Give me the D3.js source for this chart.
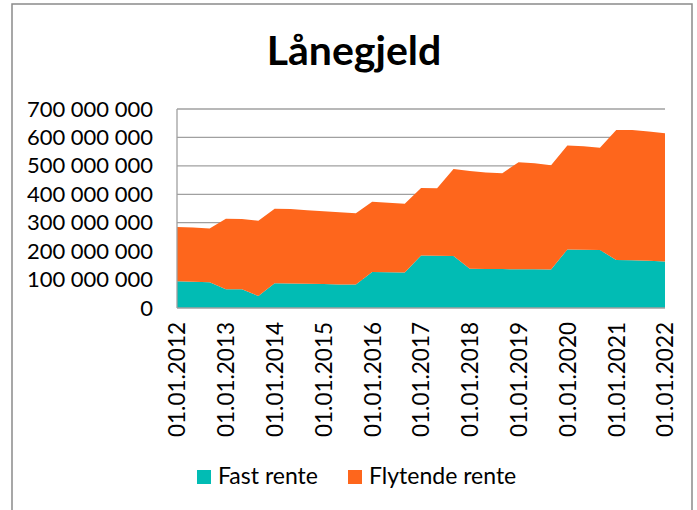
<!DOCTYPE html>
<html>
<head>
<meta charset="utf-8">
<script src="https://cdn.jsdelivr.net/npm/d3@7"></script>
<style>
  body { margin: 0; background: #fff; }
  text { font-family: Lato, "Open Sans", sans-serif; fill: #000; }
</style>
</head>
<body>
<script>
// set dimensions
var width = 697;
var height = 510;

// data: every 4 months (01.01, 01.05, 01.09), values in million NOK
var dates = [
  "01.01.2012", "01.05.2012", "01.09.2012",
  "01.01.2013", "01.05.2013", "01.09.2013",
  "01.01.2014", "01.05.2014", "01.09.2014",
  "01.01.2015", "01.05.2015", "01.09.2015",
  "01.01.2016", "01.05.2016", "01.09.2016",
  "01.01.2017", "01.05.2017", "01.09.2017",
  "01.01.2018", "01.05.2018", "01.09.2018",
  "01.01.2019", "01.05.2019", "01.09.2019",
  "01.01.2020", "01.05.2020", "01.09.2020",
  "01.01.2021", "01.05.2021", "01.09.2021",
  "01.01.2022"
];
var fastRente = [
  94, 92, 91,
  66, 66, 42,
  87, 86, 85,
  84, 83, 83,
  127, 126, 125,
  185, 184, 183,
  138, 137, 137,
  136, 136, 135,
  206, 205, 204,
  169, 168, 166,
  164
];
var flytendeRente = [
  191, 191, 189,
  248, 247, 265,
  262, 262, 259,
  256, 254, 250,
  247, 244, 242,
  237, 237, 306,
  344, 340, 337,
  377, 373, 367,
  366, 364, 360,
  457, 458, 455,
  451
];
var seriesNames = ["Fast rente", "Flytende rente"];
var colors = ["#01bcb4", "#fe661c"];
var yTicks = [0, 100, 200, 300, 400, 500, 600, 700];
var xTickLabels = ["01.01.2012", "01.01.2013", "01.01.2014", "01.01.2015", "01.01.2016",
  "01.01.2017", "01.01.2018", "01.01.2019", "01.01.2020", "01.01.2021", "01.01.2022"];

var parseDate = d3.timeParse("%d.%m.%Y");

var data = dates.map(function(d, i) {
  return { date: parseDate(d), fast: fastRente[i], flyt: flytendeRente[i] };
});

// create SVG
var svg = d3.select("body")
    .append("svg")
    .attr("width", width)
    .attr("height", height);

// chart border
svg.append("rect")
    .attr("x", 12)
    .attr("y", 4)
    .attr("width", 680)
    .attr("height", 530)
    .attr("fill", "none")
    .attr("stroke", "#8a8a8a")
    .attr("stroke-width", 1.5);

// title
svg.append("text")
    .attr("x", 354)
    .attr("y", 65)
    .attr("text-anchor", "middle")
    .attr("font-size", "41px")
    .attr("font-weight", "bold")
    .text("Lånegjeld");

// scales
var xScale = d3.scaleTime()
    .domain([parseDate(dates[0]), parseDate(dates[dates.length - 1])])
    .range([177, 665]);

var yScale = d3.scaleLinear()
    .domain([0, 700])
    .range([308, 109]);

// gridlines
svg.append("g")
    .selectAll("line")
    .data(yTicks.slice(1))
    .enter()
    .append("line")
    .attr("x1", 177)
    .attr("x2", 665)
    .attr("y1", d => yScale(d))
    .attr("y2", d => yScale(d))
    .attr("stroke", "#a0a0a0")
    .attr("stroke-width", 1.3);

// stack
var stack = d3.stack().keys(["fast", "flyt"]);
var layers = stack(data);

var area = d3.area()
    .x(d => xScale(d.data.date))
    .y0(d => yScale(d[0]))
    .y1(d => yScale(d[1]));

svg.selectAll("path.layer")
    .data(layers)
    .enter()
    .append("path")
    .attr("class", "layer")
    .attr("d", area)
    .attr("fill", (d, i) => colors[i]);

// axis lines
svg.append("line")
    .attr("x1", 177).attr("x2", 177)
    .attr("y1", yScale(700)).attr("y2", yScale(0))
    .attr("stroke", "#a0a0a0").attr("stroke-width", 1.3);
svg.append("line")
    .attr("x1", 177).attr("x2", 665)
    .attr("y1", yScale(0)).attr("y2", yScale(0))
    .attr("stroke", "#a0a0a0").attr("stroke-width", 1.3);

// y axis labels
var fmt = d3.formatLocale({ decimal: ",", thousands: "\u00a0", grouping: [3], currency: ["", ""] }).format(",d");
var yAxis = d3.axisLeft(yScale)
    .tickValues(yTicks)
    .tickSize(0)
    .tickPadding(24)
    .tickFormat(d => fmt(d * 1000000));

svg.append("g")
    .attr("transform", "translate(177,0)")
    .call(yAxis)
    .call(g => g.select(".domain").remove())
    .selectAll("text")
    .attr("font-family", "Lato, sans-serif")
    .attr("font-size", "22px")
    .attr("fill", "#000");

// x axis labels
var xAxis = d3.axisBottom(xScale)
    .tickValues(xTickLabels.map(parseDate))
    .tickSize(0)
    .tickFormat(d3.timeFormat("%d.%m.%Y"));

svg.append("g")
    .attr("transform", "translate(0," + yScale(0) + ")")
    .call(xAxis)
    .call(g => g.select(".domain").remove())
    .selectAll("text")
    .attr("font-family", "Lato, sans-serif")
    .attr("font-size", "22.5px")
    .attr("fill", "#000")
    .attr("text-anchor", "end")
    .attr("transform", "rotate(-90)")
    .attr("x", -14)
    .attr("y", 0)
    .attr("dy", "0.35em");

// legend
var legendX = [197, 348];
var legend = svg.selectAll("g.legend")
    .data(seriesNames)
    .enter()
    .append("g")
    .attr("class", "legend")
    .attr("transform", (d, i) => "translate(" + legendX[i] + ",470)");

legend.append("rect")
    .attr("width", 14)
    .attr("height", 14)
    .attr("fill", (d, i) => colors[i]);

legend.append("text")
    .attr("x", 21)
    .attr("y", 14)
    .attr("font-size", "23px")
    .text(d => d);
</script>
</body>
</html>
